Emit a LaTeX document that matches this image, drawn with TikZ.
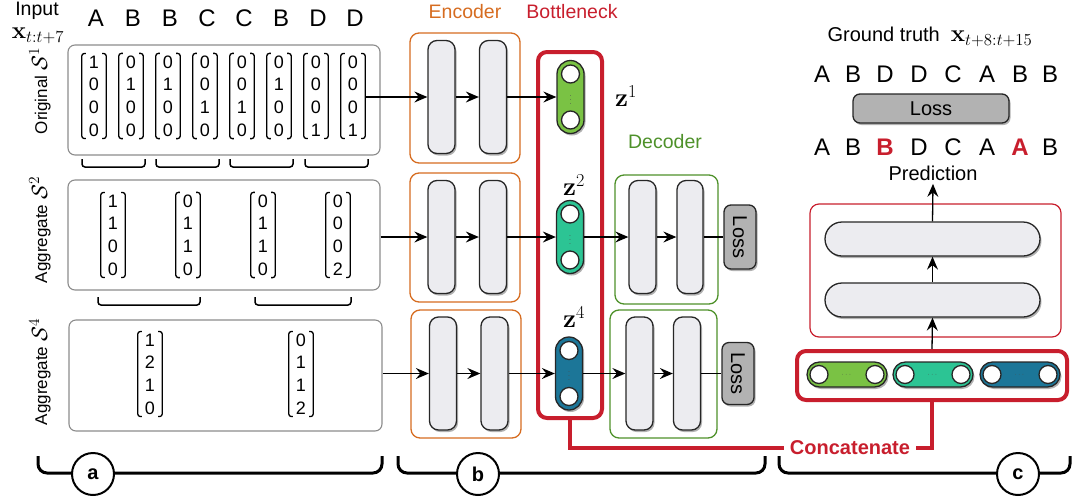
\RequirePackage{fix-cm}
\documentclass[tikz,border=0pt]{standalone}
\usepackage{amsmath, amssymb}
\usepackage[no-math]{fontspec}
\setmainfont{Liberation Sans}
\usetikzlibrary{positioning, arrows.meta, shadows, calc}

\definecolor{encorange}{RGB}{214,108,32}
\definecolor{decgreen}{RGB}{78,145,42}
\definecolor{neckred}{RGB}{200,30,45}
\definecolor{layergray}{RGB}{236,236,240}
\definecolor{lossgray}{RGB}{178,178,178}
\definecolor{zgreen}{RGB}{122,194,68}
\definecolor{zteal}{RGB}{44,196,148}
\definecolor{zblue}{RGB}{28,118,152}

\tikzset{
  softshadow/.style={drop shadow={shadow xshift=1.5pt, shadow yshift=-2pt, opacity=0.3, fill=black}},
}

\begin{document}
\begin{tikzpicture}[x=1pt, y=-1pt,
    letter/.style={font=\fontsize{24}{26}\selectfont},
    head/.style={font=\fontsize{19.5}{22}\selectfont},
    side/.style={rotate=90, font=\fontsize{17}{20}\selectfont},
    vec/.style={align=center, font=\fontsize{18}{22.7}\selectfont, inner xsep=7pt, inner ysep=2pt,
      append after command={\pgfextra{\draw[line width=1.3pt, rounded corners=2.5pt]
        ([xshift=4pt]\tikzlastnode.north west) -- (\tikzlastnode.north west) -- (\tikzlastnode.south west) -- ([xshift=4pt]\tikzlastnode.south west)
        ([xshift=-4pt]\tikzlastnode.north east) -- (\tikzlastnode.north east) -- (\tikzlastnode.south east) -- ([xshift=-4pt]\tikzlastnode.south east);}}},
    panel/.style={draw=black!45, line width=1.1pt, rounded corners=7pt},
    encbox/.style={draw=encorange, line width=1.3pt, rounded corners=9pt},
    decbox/.style={draw=decgreen, line width=1.3pt, rounded corners=9pt},
    layer/.style={draw=black!85, fill=layergray, line width=1.3pt, rounded corners=9pt, minimum width=27pt, minimum height=113pt, softshadow},
    code/.style={draw=black!85, line width=1.3pt, rounded corners=13.5pt, minimum width=27pt, minimum height=73pt, softshadow},
    flatcode/.style={draw=black!85, line width=1.3pt, rounded corners=12.5pt, minimum width=80pt, minimum height=25pt, softshadow},
    unit/.style={circle, draw=black!85, fill=white, line width=1.3pt, minimum size=18pt, inner sep=0pt},
    dots/.style={font=\fontsize{7}{7}\selectfont, text=black!70, inner sep=0pt},
    lossbox/.style={draw=black!85, fill=lossgray, line width=1.3pt, rounded corners=7pt, softshadow, font=\fontsize{20}{22}\selectfont},
    link/.style={-{Stealth[length=13pt, width=11pt, inset=4.5pt]}, line width=1.3pt},
    plain/.style={line width=1.3pt},
    brace/.style={line width=1.5pt, rounded corners=3pt},
    bigbrace/.style={line width=3pt, rounded corners=9pt},
    tag/.style={circle, draw, line width=2pt, fill=white, minimum size=42pt, inner sep=0pt, font=\fontsize{20}{22}\selectfont\bfseries},
    neck/.style={draw=neckred, line width=4pt, rounded corners=9pt},
    concat/.style={draw=neckred, line width=3.5pt},
    zlabel/.style={font=\fontsize{26}{28}\selectfont}]

    \useasboundingbox (0,0) rectangle (1073,496);

    % Input sequence
    \node[head] (Input) at (37,11) {Input};
    \node[font=\fontsize{24}{26}\selectfont] (InputX) at (38,36) {$\mathbf{x}_{t:t+7}$};
    \foreach \ch [count=\i] in {A,B,B,C,C,B,D,D}
        \node[letter] (In\i) at ({96+37*(\i-1)},18) {\ch};

    % Original S^1
    \node[panel, minimum width=312pt, minimum height=110pt] (Orig) at (224,100) {};
    \foreach \va/\vb/\vc/\vd [count=\i] in {1/0/0/0, 0/1/0/0, 0/1/0/0, 0/0/1/0, 0/0/1/0, 0/1/0/0, 0/0/0/1, 0/0/0/1}
        \node[vec] (V1\i) at ({94+37*(\i-1)},96) {\va\\\vb\\\vc\\\vd};
    \node[side] (OrigLabel) at (40,91) {Original {\fontsize{22}{24}\selectfont$\mathcal{S}^1$}};
    \draw[brace] (82,159) -- (82,167) -- (145,167) -- (145,159);
    \draw[brace] (156,159) -- (156,167) -- (219,167) -- (219,159);
    \draw[brace] (230,159) -- (230,167) -- (293,167) -- (293,159);
    \draw[brace] (305,159) -- (305,167) -- (368,167) -- (368,159);

    % Aggregate S^2
    \node[panel, minimum width=312pt, minimum height=110pt] (Agg2) at (224,235) {};
    \foreach \va/\vb/\vc/\vd [count=\i] in {1/1/0/0, 0/1/1/0, 0/1/1/0, 0/0/0/2}
        \node[vec] (V2\i) at ({113+75*(\i-1)},235) {\va\\\vb\\\vc\\\vd};
    \node[side] (Agg2Label) at (40,230) {Aggregate {\fontsize{22}{24}\selectfont$\mathcal{S}^2$}};
    \draw[brace] (98,297) -- (98,305) -- (200,305) -- (200,297);
    \draw[brace] (255,297) -- (255,305) -- (351,305) -- (351,297);

    % Aggregate S^4
    \node[panel, minimum width=313pt, minimum height=111pt] (Agg4) at (225.5,375.5) {};
    \node[vec] (V41) at (150,374) {1\\2\\1\\0};
    \node[vec] (V42) at (301,374) {0\\1\\1\\2};
    \node[side] (Agg4Label) at (40,372) {Aggregate {\fontsize{22}{24}\selectfont$\mathcal{S}^4$}};

    % Encoder
    \node[head, text=encorange] (EncTitle) at (465,12) {Encoder};
    \node[encbox, minimum width=110pt, minimum height=130pt] (Enc1) at (465,98) {};
    \node[layer] (Enc1a) at (441.5,97) {};
    \node[layer] (Enc1b) at (493,97) {};
    \node[encbox, minimum width=110pt, minimum height=129pt] (Enc2) at (465,237.5) {};
    \node[layer] (Enc2a) at (441.5,237) {};
    \node[layer] (Enc2b) at (493,237) {};
    \node[encbox, minimum width=110pt, minimum height=128pt] (Enc3) at (466,374) {};
    \node[layer] (Enc3a) at (443,373.5) {};
    \node[layer] (Enc3b) at (494.5,373.5) {};

    % Bottleneck
    \node[head, text=neckred] (NeckTitle) at (572,12) {Bottleneck};
    \node[neck, minimum width=64pt, minimum height=366pt] (Neck) at (570,235) {};
    \node[code, fill=zgreen] (Z1) at (570.5,97) {};
    \node[unit, below=4.5pt of Z1.north] (Z1u) {};
    \node[unit, above=4.5pt of Z1.south] (Z1d) {};
    \node[dots] (Z1dots) at (Z1) {$\vdots$};
    \node[zlabel] (Z1label) at (626,96) {$\mathbf{z}^1$};
    \node[code, fill=zteal] (Z2) at (570,237) {};
    \node[unit, below=4.5pt of Z2.north] (Z2u) {};
    \node[unit, above=4.5pt of Z2.south] (Z2d) {};
    \node[dots] (Z2dots) at (Z2) {$\vdots$};
    \node[zlabel] (Z2label) at (574,185) {$\mathbf{z}^2$};
    \node[code, fill=zblue] (Z4) at (569,373.5) {};
    \node[unit, below=4.5pt of Z4.north] (Z4u) {};
    \node[unit, above=4.5pt of Z4.south] (Z4d) {};
    \node[dots] (Z4dots) at (Z4) {$\vdots$};
    \node[zlabel] (Z4label) at (574,317) {$\mathbf{z}^4$};

    % Decoder
    \node[head, text=decgreen] (DecTitle) at (665,142) {Decoder};
    \node[decbox, minimum width=103pt, minimum height=129pt] (Dec2) at (666.5,239.5) {};
    \node[layer] (Dec2a) at (642.5,237) {};
    \node[layer, minimum width=26pt] (Dec2b) at (690,237) {};
    \node[lossbox, minimum width=32pt, minimum height=64pt] (Loss2) at (740,237) {\rotatebox{-90}{Loss}};
    \node[decbox, minimum width=107pt, minimum height=128pt] (Dec3) at (663.5,374) {};
    \node[layer] (Dec3a) at (639.5,373.5) {};
    \node[layer] (Dec3b) at (687,373.5) {};
    \node[lossbox, minimum width=32pt, minimum height=62pt] (Loss3) at (738,373.5) {\rotatebox{-90}{Loss}};

    % Flow through the rows
    \draw[link] (V18.east |- Enc1a) -- (Enc1a);
    \draw[link] (Enc1a) -- (Enc1b);
    \draw[link] (Enc1b) -- (Z1);
    \draw[link] (Agg2.east |- Enc2a) -- (Enc2a);
    \draw[link] (Enc2a) -- (Enc2b);
    \draw[link] (Enc2b) -- (Z2);
    \draw[link] (Z2) -- (Dec2a);
    \draw[link] (Dec2a) -- (Dec2b);
    \draw[plain] (Dec2b) -- (Loss2);
    \draw[link] (Agg4.east |- Enc3a) -- (Enc3a);
    \draw[link] (Enc3a) -- (Enc3b);
    \draw[link] (Enc3b) -- (Z4);
    \draw[link] (Z4) -- (Dec3a);
    \draw[link] (Dec3a) -- (Dec3b);
    \draw[plain] (Dec3b) -- (Loss3);

    % Forecasting head
    \node[font=\fontsize{20}{22}\selectfont] (Truth) at (930,37) {Ground truth\ \ {\fontsize{24}{26}\selectfont$\mathbf{x}_{t+8:t+15}$}};
    \foreach \ch/\px [count=\i] in {A/822, B/853, D/885, D/919, C/953, A/987, B/1020, B/1050}
        \node[letter] (Gt\i) at (\px,74) {\ch};
    \node[lossbox, minimum width=156pt, minimum height=29pt] (LossTop) at (931,108.5) {Loss};
    \foreach \ch/\px [count=\i] in {A/822, B/853, {\textbf{\color{neckred}B}}/885, D/919, C/953, A/987, {\textbf{\color{neckred}A}}/1020, B/1050}
        \node[letter] (Pr\i) at (\px,147) {\ch};
    \node[font=\fontsize{20}{22}\selectfont] (Pred) at (933,173) {Prediction};
    \node[draw=neckred, line width=1.2pt, rounded corners=9pt, minimum width=251pt, minimum height=133pt] (Mlp) at (935.5,270.5) {};
    \node[draw=black!85, fill=layergray, line width=1.3pt, rounded corners=17pt, minimum width=215pt, minimum height=34pt, softshadow] (Hid1) at (932.5,239) {};
    \node[draw=black!85, fill=layergray, line width=1.3pt, rounded corners=17pt, minimum width=215pt, minimum height=34pt, softshadow] (Hid2) at (932.5,300) {};
    \node[neck, minimum width=270pt, minimum height=49pt] (Concat) at (932,375.5) {};
    \node[flatcode, fill=zgreen] (C1) at (847,374.5) {};
    \node[unit, right=3pt of C1.west] (C1l) {};
    \node[unit, left=3pt of C1.east] (C1r) {};
    \node[dots] (C1dots) at (C1) {$\cdots$};
    \node[flatcode, fill=zteal] (C2) at (933,374.5) {};
    \node[unit, right=3pt of C2.west] (C2l) {};
    \node[unit, left=3pt of C2.east] (C2r) {};
    \node[dots] (C2dots) at (C2) {$\cdots$};
    \node[flatcode, fill=zblue] (C4) at (1020,374.5) {};
    \node[unit, right=3pt of C4.west] (C4l) {};
    \node[unit, left=3pt of C4.east] (C4r) {};
    \node[dots] (C4dots) at (C4) {$\cdots$};
    \draw[link] (Concat.north) -- (Hid2.south);
    \draw[link] (Hid2.north) -- (Hid1.south);
    \draw[link] (Hid1.north) -- (Pred.south);

    % Concatenate
    \node[font=\fontsize{20}{22}\selectfont\bfseries, text=neckred, inner xsep=6pt] (ConcatLabel) at (850,448) {Concatenate};
    \draw[concat] (Neck.south) |- (ConcatLabel.west);
    \draw[concat] (ConcatLabel.east) -| (Concat.south);

    % Parts
    \draw[bigbrace] (38,456) -- (38,473) -- (382,473) -- (382,456);
    \draw[bigbrace] (398,456) -- (398,473) -- (765,473) -- (765,456);
    \draw[bigbrace] (779,456) -- (779,473) -- (1070,473) -- (1070,456);
    \node[tag] (TagA) at (93,474) {a};
    \node[tag] (TagB) at (478,474) {b};
    \node[tag] (TagC) at (1018,474) {c};

\end{tikzpicture}
\end{document}
